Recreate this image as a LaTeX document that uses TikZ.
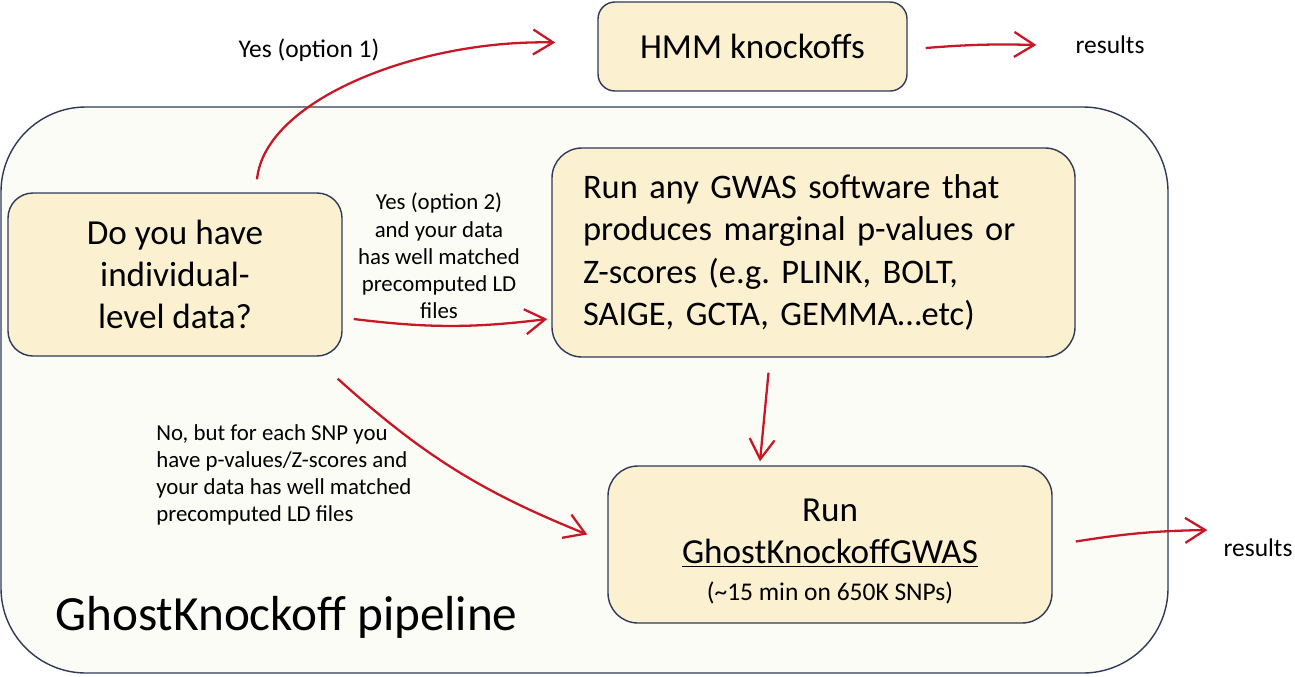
\documentclass[tikz,border=0pt]{standalone}
\usepackage{fontspec}
\setmainfont{Carlito}
\usetikzlibrary{arrows.meta, positioning, calc}

\definecolor{cream}{RGB}{251,240,208}
\definecolor{pale}{RGB}{250,252,245}
\definecolor{frame}{RGB}{47,58,89}
\definecolor{pen}{RGB}{200,24,40}

\begin{document}
\frenchspacing
\begin{tikzpicture}[
    x=0.2mm, y=-0.2mm,
    box/.style={rectangle, rounded corners=#1, draw=frame, fill=cream, line width=0.8pt,
                align=center, font=\fontsize{20}{24}\selectfont},
    box/.default=5mm,
    note/.style={font=\fontsize{13}{15.5}\selectfont, align=center},
    tag/.style={font=\fontsize{14.5}{17}\selectfont},
    arrow/.style={-{Straight Barb[length=4mm, width=5mm]}, pen, line width=1.3pt},
]
\useasboundingbox (0,0) rectangle (1295,676);

% ── Container ──
\node[box=17mm, fill=pale, minimum width=233.4mm, minimum height=113.2mm] (pipeline) at (584.5,390) {};
\node[font=\fontsize{28}{34}\selectfont, anchor=west, inner sep=0] (title) at (55,617) {GhostKnockoff pipeline};

% ── Boxes ──
\node[box=3.4mm, minimum width=61.8mm, minimum height=17.8mm] (hmm) at (752.5,46.5) {HMM knockoffs};
\node[box=5mm, minimum width=66.8mm, minimum height=32.6mm] (data) at (175,274.5) {Do you have\\individual-\\level data?};
\node[box=6mm, text width=92.2mm, inner xsep=6.2mm, minimum height=41.8mm, align=left,
      font=\fontsize{19.6}{24.2}\selectfont] (gwas) at (813.5,252.5)
    {Run any GWAS software that\\produces marginal p-values or\\Z-scores (e.g. PLINK, BOLT,\\SAIGE, GCTA, GEMMA…etc)};
\node[box=6mm, minimum width=88.8mm, minimum height=31.4mm] (ghost) at (830,544.5)
    {\rule{0pt}{21pt}Run\\\underline{GhostKnockoffGWAS}\\[-3pt]{\fontsize{14.5}{17}\selectfont (\textasciitilde15 min on 650K SNPs)}};

% ── Labels ──
\node[tag] (opt1) at (309,50) {Yes (option 1)};
\node[note] (opt2) at (439,256) {Yes (option 2)\\and your data\\has well matched\\precomputed LD\\files};
\node[note, align=left, anchor=west, inner sep=0] (opt3) at (156,475)
    {No, but for each SNP you\\have p-values/Z-scores and\\your data has well matched\\precomputed LD files};
\node[tag] (res1) at (1110,45) {results};
\node[tag] (res2) at (1258,548) {results};

% ── Arrows ──
\draw[arrow] ($(data.north)+(82,-13)$) .. controls +(8,-80) and +(-136,-3) .. ($(hmm.west)+(-42,-4)$);
\draw[arrow] ($(hmm.east)+(18,1.5)$) to[bend left=3] ($(res1.west)+(-33,0)$);
\draw[arrow] ($(data.east|-0,319)+(11,0)$) to[bend right=7] ($(gwas.west|-0,319)+(-4,0)$);
\draw[arrow] ($(data.south east)+(-5,22)$) to[bend right=10] ($(ghost.west)+(-20,-10)$);
\draw[arrow] ($(gwas.south)+(-45,15)$) -- ($(ghost.north)+(-70,-4)$);
\draw[arrow] ($(ghost.east)+(23,-3)$) to[bend left=4] ($(res2.west)+(-10,-18)$);

\end{tikzpicture}
\end{document}
